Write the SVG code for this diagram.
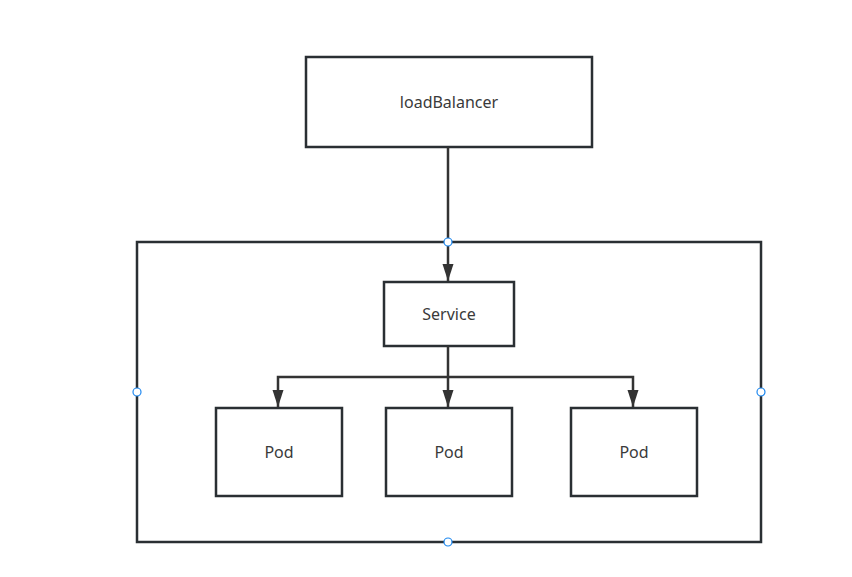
<svg xmlns="http://www.w3.org/2000/svg" width="852" height="577" viewBox="0 0 852 577">
<style>
.box{fill:#fff;stroke:#2a2f33;stroke-width:2.5}
.lbl{font-family:"Noto Sans","Open Sans",sans-serif;font-size:16px;fill:#3a3a3a;text-anchor:middle;dominant-baseline:central}
.edge{fill:none;stroke:#333;stroke-width:2.5}
.handle{fill:#fff;stroke:#1e88f0;stroke-width:1.2}
</style>
<defs>
<marker id="arr" viewBox="0 0 17 12" refX="17" refY="6" markerWidth="17" markerHeight="12" markerUnits="userSpaceOnUse" orient="auto">
<path d="M0,0.5 L17,6 L0,11.5 Z" fill="#333"/>
</marker>
</defs>
<rect width="852" height="577" fill="#fff"/>
<g id="cluster">
<rect class="box" x="137" y="242" width="624" height="300"/>
</g>
<g id="loadBalancer">
<rect class="box" x="306" y="57" width="286" height="90"/>
<text class="lbl" x="449" y="102">loadBalancer</text>
</g>
<g id="service">
<rect class="box" x="384" y="282" width="130" height="64"/>
<text class="lbl" x="449" y="314">Service</text>
</g>
<g id="pod1">
<rect class="box" x="216" y="408" width="126" height="88"/>
<text class="lbl" x="279" y="452">Pod</text>
</g>
<g id="pod2">
<rect class="box" x="386" y="408" width="126" height="88"/>
<text class="lbl" x="449" y="452">Pod</text>
</g>
<g id="pod3">
<rect class="box" x="571" y="408" width="126" height="88"/>
<text class="lbl" x="634" y="452">Pod</text>
</g>
<g id="connectors">
<path class="edge" d="M448,147 V281" marker-end="url(#arr)"/>
<path class="edge" d="M448,346 V407" marker-end="url(#arr)"/>
<path class="edge" d="M448,377 H278 V407" marker-end="url(#arr)"/>
<path class="edge" d="M448,377 H633 V407" marker-end="url(#arr)"/>
</g>
<g id="handles">
<circle class="handle" cx="448" cy="242" r="4"/>
<circle class="handle" cx="137" cy="392" r="4"/>
<circle class="handle" cx="761" cy="392" r="4"/>
<circle class="handle" cx="448" cy="542" r="4"/>
</g>
</svg>
